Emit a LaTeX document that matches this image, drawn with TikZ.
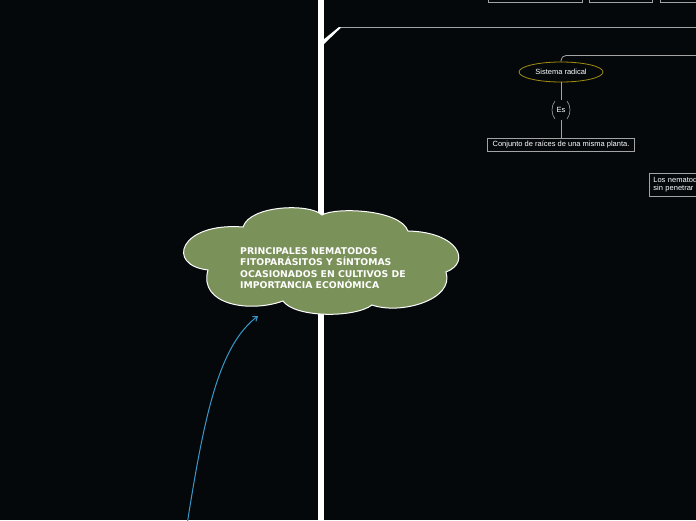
\documentclass[tikz,border=0pt]{standalone}
\usepackage{fontspec}
\setmainfont{Liberation Sans}
\newfontfamily\cloudfont{DejaVu Sans}
\usetikzlibrary{arrows.meta,shapes.geometric}
\definecolor{fondo}{HTML}{05080B}
\definecolor{linea}{HTML}{A3A3A3}
\definecolor{nube}{HTML}{7B915A}
\definecolor{ocre}{HTML}{A08C10}
\definecolor{flecha}{HTML}{3898C8}
\tikzset{
  caja/.style={draw=linea,line width=0.8pt,text=white,font=\fontsize{7.5}{8}\selectfont,inner xsep=5pt,inner ysep=3pt},
  rama/.style={draw=linea,line width=0.8pt},
}
\begin{document}
\begin{tikzpicture}[x=1pt,y=-1pt]
\useasboundingbox (0,0) rectangle (696,520);
\fill[fondo] (0,0) rectangle (696,520);
\clip (0,0) rectangle (696,520);
\fill[white] (318,0) rectangle (324,520);

% cajas cortadas arriba
\node[caja,anchor=south west,minimum width=94,minimum height=20] (arriba1) at (488,3) {};
\node[caja,anchor=south west,minimum width=63,minimum height=20] (arriba2) at (589,3) {};
\node[caja,anchor=south west,minimum width=60,minimum height=20] (arriba3) at (660,3) {};

% rama principal
\coordinate (borde) at (700,27);
\coordinate (codo) at (339,27);
\draw[rama] (borde) -- (codo);
\fill[white] (codo) -- (341,27.6) -- (324,44) -- (323,40) -- cycle;

% sistema radical
\node[ellipse,draw=ocre,line width=0.8pt,minimum width=84,minimum height=20,inner sep=0,
  text=white,font=\fontsize{7.5}{8}\selectfont] (sistema) at (561,72) {Sistema radical};
\node[minimum width=14,minimum height=20,inner sep=0,text=white,
  font=\fontsize{7.5}{8}\selectfont] (es) at (561,110) {Es};
\node[caja] (conjunto) at (561,145) {Conjunto de raíces de una misma planta.};
\coordinate (derecha) at (700,55.5);
\draw[rama,rounded corners=5] (sistema.north) -- (561,55.5) -- (derecha);
\draw[rama] (sistema) -- (es);
\draw[rama] (es) -- (conjunto);
\draw[linea,line width=0.6pt] (555,101) .. controls (551,106) and (551,114) .. (555,119);
\draw[linea,line width=0.6pt] (567,101) .. controls (571,106) and (571,114) .. (567,119);

\node[caja,anchor=north west,align=left,text width=60,inner xsep=4pt,inner ysep=4pt] (nematodos) at (649,173) {Los nematodos\\sin penetrar a};

% nube central
\filldraw[fill=nube,draw=white,line width=1pt] (208,270)
  .. controls (165,265) and (180,222) .. (243,227)
  .. controls (250,205) and (310,203) .. (322,215)
  .. controls (335,207) and (400,209) .. (408,231)
  .. controls (458,232) and (472,262) .. (446,272)
  .. controls (455,300) and (400,315) .. (372,305)
  .. controls (355,318) and (295,318) .. (283,301)
  .. controls (250,313) and (198,305) .. (208,270) -- cycle;
\node[anchor=north west,inner sep=0,align=left,text=white,
  font=\cloudfont\bfseries\fontsize{9.3}{11.3}\selectfont] (tema) at (240,247.5)
  {PRINCIPALES NEMATODOS\\FITOPARÁSITOS Y SÍNTOMAS\\OCASIONADOS EN CULTIVOS DE\\IMPORTANCIA ECONÓMICA};

% flecha azul
\coordinate (origen) at (187,525);
\coordinate (llegada) at (258,316);
\draw[flecha,line width=1pt,-{Straight Barb[length=4pt,width=6pt]}] (origen) .. controls (205,410) and (220,345) .. (llegada);
\end{tikzpicture}
\end{document}
